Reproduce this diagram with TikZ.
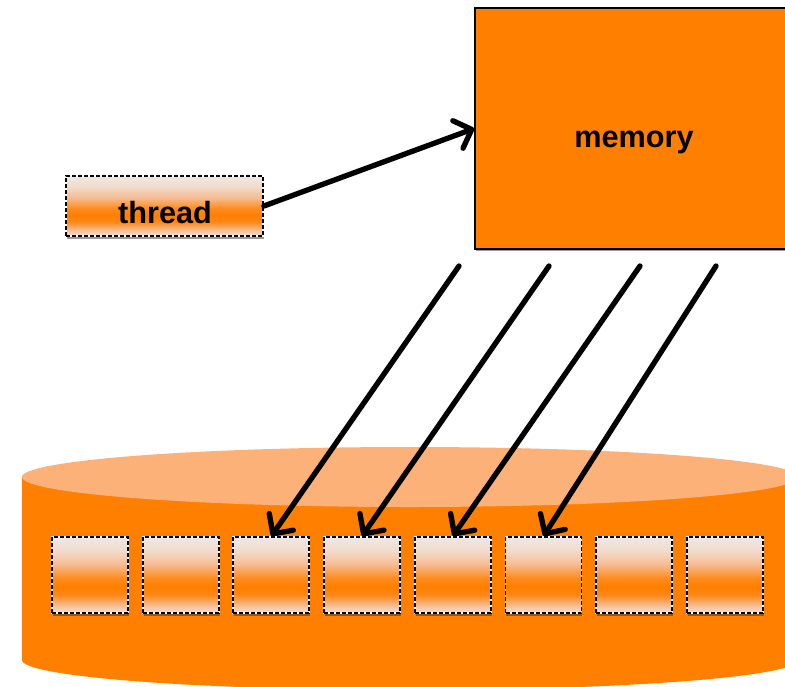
\documentclass[tikz,border=0pt]{standalone}
\usepackage{fontspec}
\setmainfont{Liberation Sans}
\usetikzlibrary{arrows.meta,shadows}

\definecolor{memorange}{RGB}{255,127,0}
\definecolor{disktop}{RGB}{252,177,121}
\definecolor{celltop}{RGB}{239,232,229}
\definecolor{cellpeach}{RGB}{246,188,146}
\definecolor{cellbot}{RGB}{244,228,220}

% light at the top, an orange band about two thirds down, light again at the bottom
\pgfdeclareverticalshading{cellshade}{100bp}{%
  color(0bp)=(cellbot); color(25bp)=(cellbot); color(30bp)=(cellpeach);
  color(37bp)=(memorange!85!cellpeach); color(42bp)=(memorange);
  color(48bp)=(memorange!80!cellpeach); color(57bp)=(cellpeach);
  color(66bp)=(celltop!70!cellpeach); color(75bp)=(celltop); color(100bp)=(celltop)}

\tikzset{
  dashbox/.style={shade, shading=cellshade, draw=white, line width=1.4pt,
    postaction={draw=black, line width=1.4pt, dash pattern=on 3pt off 1.5pt},
    drop shadow={shadow xshift=0.6pt, shadow yshift=-2pt, opacity=0.5, fill=black!80},
    inner sep=0pt},
  cellbox/.style={dashbox, minimum width=57pt, minimum height=57pt},
  threadbox/.style={dashbox, minimum width=147.75pt, minimum height=45pt},
  membox/.style={fill=memorange, draw=black, line width=1.2pt, inner sep=0pt,
    minimum width=238.5pt, minimum height=180.75pt,
    drop shadow={shadow xshift=0.6pt, shadow yshift=-1.2pt, opacity=0.4, fill=black}},
  boldlabel/.style={font=\fontsize{23}{27}\selectfont\bfseries, inner sep=0pt, anchor=base},
  conn/.style={line width=4pt, line cap=round,
    -{Straight Barb[length=11pt, width=22pt, line cap=round, line join=round]}}
}

\begin{document}
\begin{tikzpicture}[x=0.75pt, y=-0.75pt]
\useasboundingbox (0,0) rectangle (785,686);

% disk: orange side with a lighter top face
\fill[memorange] (22,477) -- (22,660) arc[start angle=180, end angle=0, x radius=388, y radius=30]
  -- (798,477) -- cycle;
\fill[disktop] (410,477) ellipse[x radius=388, y radius=30];

% memory block and thread
\node[membox] (memory) at (634,128.5) {};
\node[boldlabel] (memlabel) at (634,147) {memory};
\node[threadbox] (thread) at (164.5,206) {};
\node[boldlabel] (threadlabel) at (165,223) {thread};

% row of cells on the disk
\foreach \i in {1,...,8} {
  \node[cellbox] (c\i) at ({90+90.7*(\i-1)},575) {};
}

% thread writes to memory
\draw[conn] (thread.east) -- (memory.west);

% memory flushed to four cells
\coordinate (s1) at (459,266);
\coordinate (s2) at (549,266);
\coordinate (s3) at (640,266);
\coordinate (s4) at (716,266);
\draw[conn] (s1) -- (c3.north);
\draw[conn] (s2) -- (c4.north);
\draw[conn] (s3) -- (c5.north);
\draw[conn] (s4) -- (c6.north);
\end{tikzpicture}
\end{document}
